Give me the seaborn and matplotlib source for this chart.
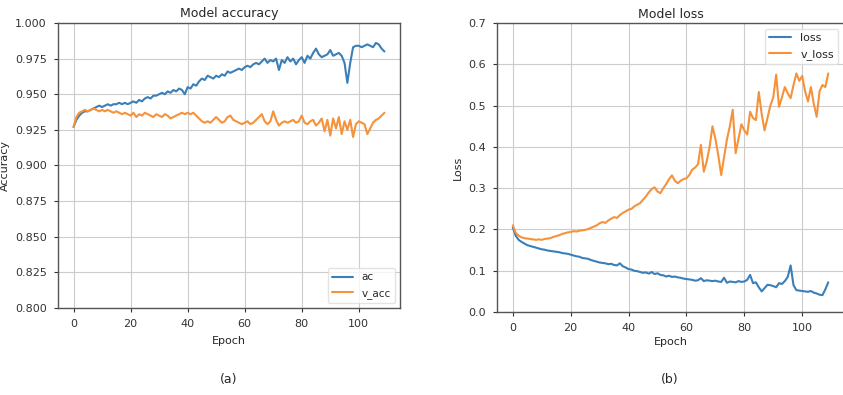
import matplotlib
matplotlib.use("Agg")
import matplotlib.pyplot as plt
import seaborn as sns
import numpy as np

# training history (epochs 0..109)
acc = [0.927, 0.932, 0.935, 0.937, 0.938, 0.938, 0.939, 0.940, 0.941, 0.942,
       0.941, 0.942, 0.943, 0.942, 0.943, 0.943, 0.944, 0.943, 0.944, 0.943,
       0.944, 0.945, 0.944, 0.946, 0.945, 0.947, 0.948, 0.947, 0.949, 0.949,
       0.950, 0.951, 0.950, 0.952, 0.951, 0.953, 0.952, 0.954, 0.953, 0.950,
       0.955, 0.954, 0.957, 0.956, 0.959, 0.961, 0.960, 0.963, 0.962, 0.961,
       0.963, 0.962, 0.964, 0.963, 0.966, 0.965, 0.966, 0.967, 0.968, 0.967,
       0.969, 0.970, 0.969, 0.971, 0.972, 0.971, 0.973, 0.975, 0.972, 0.974,
       0.973, 0.975, 0.967, 0.974, 0.972, 0.976, 0.973, 0.975, 0.971, 0.974,
       0.976, 0.972, 0.977, 0.975, 0.979, 0.982, 0.978, 0.976, 0.977, 0.978,
       0.981, 0.977, 0.978, 0.979, 0.977, 0.972, 0.958, 0.972, 0.983, 0.984,
       0.984, 0.983, 0.984, 0.985, 0.984, 0.983, 0.986, 0.985, 0.982, 0.980]

val_acc = [0.927, 0.934, 0.937, 0.938, 0.939, 0.938, 0.939, 0.940, 0.939, 0.938,
           0.939, 0.938, 0.939, 0.938, 0.937, 0.938, 0.937, 0.936, 0.937, 0.936,
           0.935, 0.937, 0.934, 0.936, 0.935, 0.937, 0.936, 0.935, 0.934, 0.936,
           0.935, 0.934, 0.936, 0.935, 0.933, 0.934, 0.935, 0.936, 0.937, 0.936,
           0.937, 0.936, 0.937, 0.935, 0.933, 0.931, 0.930, 0.931, 0.930, 0.932,
           0.934, 0.932, 0.930, 0.931, 0.934, 0.935, 0.932, 0.931, 0.930, 0.929,
           0.930, 0.931, 0.929, 0.930, 0.932, 0.934, 0.936, 0.931, 0.929, 0.931,
           0.938, 0.932, 0.928, 0.930, 0.931, 0.930, 0.931, 0.932, 0.930, 0.931,
           0.935, 0.930, 0.929, 0.931, 0.932, 0.928, 0.930, 0.933, 0.924, 0.932,
           0.921, 0.933, 0.926, 0.934, 0.922, 0.931, 0.925, 0.932, 0.920, 0.929,
           0.931, 0.930, 0.929, 0.922, 0.926, 0.930, 0.932, 0.933, 0.935, 0.937]

loss = [0.205, 0.185, 0.175, 0.170, 0.166, 0.162, 0.160, 0.158, 0.156, 0.154,
        0.152, 0.151, 0.149, 0.148, 0.147, 0.146, 0.145, 0.143, 0.142, 0.141,
        0.139, 0.137, 0.135, 0.134, 0.131, 0.130, 0.129, 0.126, 0.124, 0.122,
        0.120, 0.119, 0.118, 0.116, 0.117, 0.114, 0.113, 0.118, 0.111, 0.108,
        0.104, 0.103, 0.100, 0.099, 0.097, 0.095, 0.096, 0.093, 0.097, 0.092,
        0.094, 0.090, 0.089, 0.086, 0.088, 0.085, 0.086, 0.084, 0.083, 0.081,
        0.080, 0.079, 0.078, 0.076, 0.077, 0.082, 0.075, 0.077, 0.076, 0.075,
        0.076, 0.074, 0.073, 0.083, 0.071, 0.074, 0.073, 0.072, 0.075, 0.073,
        0.074, 0.078, 0.090, 0.070, 0.072, 0.060, 0.050, 0.058, 0.066, 0.065,
        0.063, 0.060, 0.070, 0.068, 0.075, 0.085, 0.113, 0.065, 0.053, 0.052,
        0.051, 0.050, 0.049, 0.051, 0.047, 0.045, 0.042, 0.041, 0.055, 0.072]

val_loss = [0.210, 0.192, 0.185, 0.181, 0.179, 0.178, 0.177, 0.176, 0.175, 0.176,
            0.175, 0.177, 0.178, 0.179, 0.182, 0.184, 0.186, 0.189, 0.191, 0.193,
            0.194, 0.196, 0.195, 0.197, 0.198, 0.199, 0.201, 0.204, 0.207, 0.210,
            0.215, 0.218, 0.216, 0.222, 0.226, 0.230, 0.228, 0.235, 0.240, 0.244,
            0.248, 0.250, 0.256, 0.260, 0.264, 0.272, 0.280, 0.290, 0.298, 0.302,
            0.292, 0.288, 0.300, 0.310, 0.322, 0.331, 0.318, 0.312, 0.318, 0.322,
            0.324, 0.332, 0.345, 0.350, 0.358, 0.405, 0.340, 0.365, 0.400, 0.450,
            0.420, 0.380, 0.332, 0.375, 0.418, 0.450, 0.490, 0.385, 0.420, 0.455,
            0.440, 0.430, 0.485, 0.470, 0.465, 0.533, 0.480, 0.440, 0.470, 0.500,
            0.520, 0.575, 0.497, 0.520, 0.545, 0.530, 0.518, 0.550, 0.578, 0.560,
            0.572, 0.535, 0.510, 0.545, 0.505, 0.473, 0.535, 0.550, 0.545, 0.578]

epochs = np.arange(len(acc))

sns.set_style("ticks")
plt.rcParams['font.family'] = ['DejaVu Sans']
plt.rcParams['font.size'] = 8

fig = plt.figure(figsize=(8.43, 3.95), dpi=100)
ax1 = fig.add_axes([0.0688, 0.2203, 0.4057, 0.7215])
ax2 = fig.add_axes([0.5896, 0.2100, 0.4116, 0.7316])

blue, orange = '#3a7fb8', '#f5923a'

sns.lineplot(x=epochs, y=acc, ax=ax1, color=blue, label='ac', linewidth=1.5)
sns.lineplot(x=epochs, y=val_acc, ax=ax1, color=orange, label='v_acc', linewidth=1.5)
ax1.set_ylim(0.8, 1.0)
ax1.set_yticks(np.arange(0.8, 1.0001, 0.025))
ax1.set_yticklabels([f'{v:.3f}' for v in np.arange(0.8, 1.0001, 0.025)])
ax1.set_title('Model accuracy', fontsize=9, pad=4)
ax1.set_ylabel('Accuracy')
ax1.set_xlabel('Epoch', labelpad=5)
ax1.legend(loc='lower right', fontsize=7.5, edgecolor='#dddddd')

sns.lineplot(x=epochs, y=loss, ax=ax2, color=blue, label='loss', linewidth=1.5)
sns.lineplot(x=epochs, y=val_loss, ax=ax2, color=orange, label='v_loss', linewidth=1.5)
ax2.set_ylim(0, 0.7)
ax2.set_yticks(np.arange(0, 0.71, 0.1))
ax2.set_yticklabels([f'{v:.1f}' for v in np.arange(0, 0.71, 0.1)])
ax2.set_title('Model loss', fontsize=9, pad=4)
ax2.set_ylabel('Loss')
ax2.set_xlabel('Epoch', labelpad=3)
ax2.legend(loc='upper right', fontsize=8, edgecolor='#dddddd')

for ax in (ax1, ax2):
    ax.set_xticks([0, 20, 40, 60, 80, 100])
    ax.grid(True, color='#cccccc', linewidth=0.8)
    for s in ax.spines.values():
        s.set_color('#555555')
        s.set_linewidth(1.0)
    ax.tick_params(colors='#333333', length=3, pad=5)

fig.text(0.271, 0.038, '(a)', ha='center', va='center', fontsize=9)
fig.text(0.795, 0.038, '(b)', ha='center', va='center', fontsize=9)

fig.savefig('out.png', dpi=100)
